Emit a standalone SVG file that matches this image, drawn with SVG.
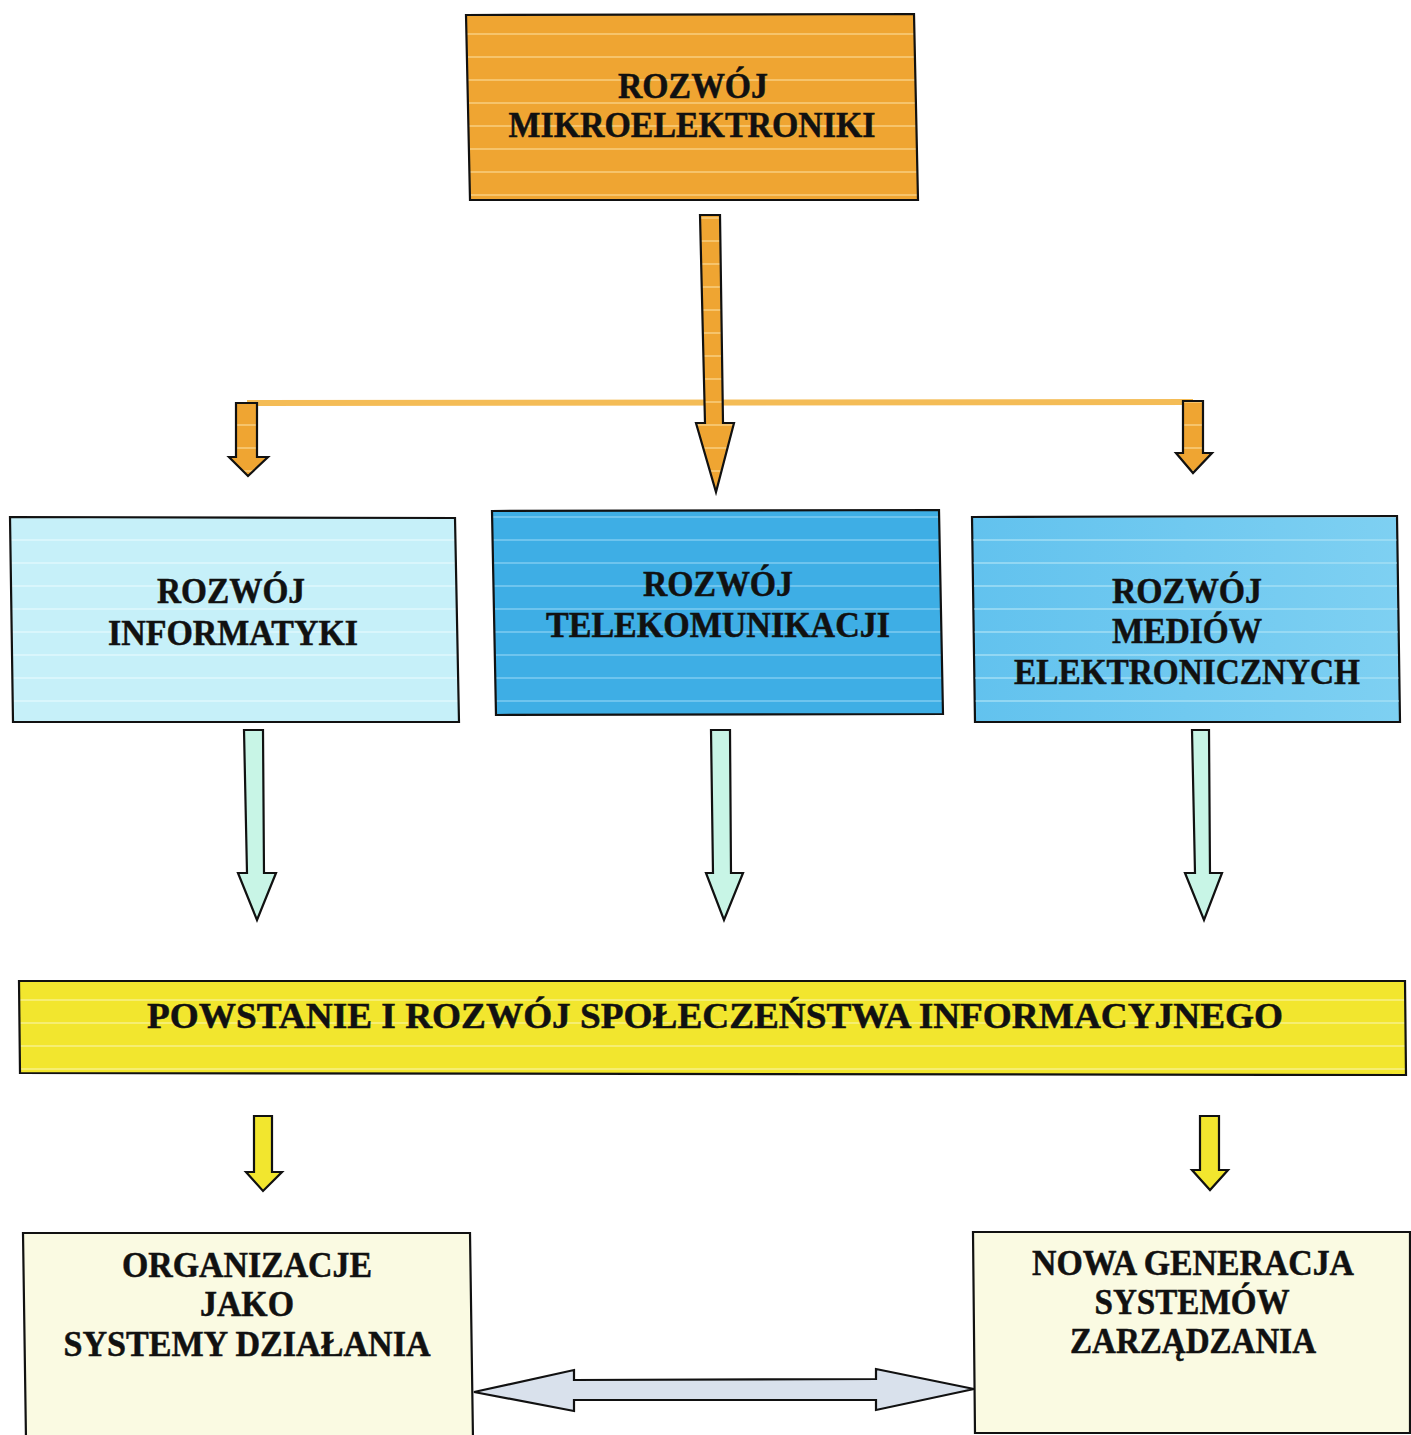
<svg xmlns="http://www.w3.org/2000/svg" width="1411" height="1435" viewBox="0 0 1411 1435">
  <defs>
    <!-- striped fills: base colour with thin lighter bands -->
    <pattern id="stripeOrange" patternUnits="userSpaceOnUse" width="40" height="23">
      <rect width="40" height="23" fill="#EFA532"/>
      <rect y="10" width="40" height="2" fill="#F6C46C"/>
    </pattern>
    <pattern id="stripeLight" patternUnits="userSpaceOnUse" width="40" height="23">
      <rect width="40" height="23" fill="#C6F0F9"/>
      <rect y="10" width="40" height="2" fill="#D9F6FC"/>
    </pattern>
    <pattern id="stripeMid" patternUnits="userSpaceOnUse" width="40" height="23">
      <rect width="40" height="23" fill="#3EAEE5"/>
      <rect y="10" width="40" height="2" fill="#6EC4EE"/>
    </pattern>
    <linearGradient id="gradMedia" x1="0" y1="0" x2="1" y2="0">
      <stop offset="0" stop-color="#62C2EE"/>
      <stop offset="1" stop-color="#7ED0F2"/>
    </linearGradient>
    <pattern id="stripeMedia" patternUnits="userSpaceOnUse" width="40" height="23">
      <rect y="10" width="40" height="2" fill="#A6E0F6" opacity="0.7"/>
    </pattern>
    <pattern id="stripeYellow" patternUnits="userSpaceOnUse" width="40" height="23">
      <rect width="40" height="23" fill="#F2E62E"/>
      <rect y="10" width="40" height="2" fill="#F6EE72"/>
    </pattern>
    <style>
      .box { stroke: #111; stroke-width: 2.2; stroke-linejoin: miter; }
      .lbl { font-family: "Liberation Serif", "Times New Roman", serif; font-weight: bold; font-size: 35px; fill: #111; stroke: #111; stroke-width: 0.5; text-anchor: middle; }
      .arr { stroke: #111; stroke-width: 2.2; stroke-linejoin: miter; }
      .orange { fill: url(#stripeOrange); }
      .mint { fill: #C8F5E6; }
      .yel { fill: #F2E62E; }
      .cream { fill: #FAFAE2; }
    </style>
  </defs>

  <rect width="1411" height="1435" fill="#FFFFFF"/>

  <!-- connectors -->
  <g id="connectors">
    <!-- distribution bar -->
    <path d="M247 403 L1193 402" stroke="#F4BC56" stroke-width="6" fill="none"/>
    <!-- main downward arrow -->
    <polygon class="arr orange" points="700,215 720,215 723,423 734,423 716,492 696,423 705,423"/>
    <!-- branch arrows -->
    <polygon class="arr orange" points="236,403 257,403 257,457 268,457 248,476 229,457 236,457"/>
    <polygon class="arr orange" points="1183,401 1203,401 1203,453 1212,453 1193,473 1176,453 1183,453"/>
    <!-- arrows into the society bar -->
    <polygon class="arr mint" points="244,730 263,730 264,873 276,873 257,920 238,873 247,873"/>
    <polygon class="arr mint" points="711,730 730,730 731,873 743,873 724,920 706,873 713,873"/>
    <polygon class="arr mint" points="1192,730 1209,730 1210,873 1222,873 1204,920 1185,873 1195,873"/>
    <!-- arrows to the bottom blocks -->
    <polygon class="arr yel" points="254,1116 272,1116 272,1172 282,1172 263,1191 246,1172 254,1172"/>
    <polygon class="arr yel" points="1200,1116 1219,1116 1219,1170 1228,1170 1210,1190 1192,1170 1200,1170"/>
    <!-- two-way link between bottom blocks -->
    <polygon class="arr" fill="#D9E1EC" points="474,1392 574,1370 574,1380 876,1379 876,1369 974,1389 876,1410 876,1400 574,1400 574,1411"/>
  </g>

  <g id="node-mikroelektronika">
    <polygon class="box orange" points="466,15 914,14 918,200 470,200"/>
    <text class="lbl" x="693" y="98" textLength="150" lengthAdjust="spacingAndGlyphs">ROZWÓJ</text>
    <text class="lbl" x="692" y="137" textLength="367" lengthAdjust="spacingAndGlyphs">MIKROELEKTRONIKI</text>
  </g>

  <g id="node-informatyka">
    <polygon class="box" fill="url(#stripeLight)" points="10,517 455,518 459,722 13,722"/>
    <text class="lbl" x="231" y="603" textLength="148" lengthAdjust="spacingAndGlyphs">ROZWÓJ</text>
    <text class="lbl" x="233" y="645" textLength="250" lengthAdjust="spacingAndGlyphs">INFORMATYKI</text>
  </g>

  <g id="node-telekomunikacja">
    <polygon class="box" fill="url(#stripeMid)" points="492,511 939,510 943,714 496,715"/>
    <text class="lbl" x="718" y="596" textLength="150" lengthAdjust="spacingAndGlyphs">ROZWÓJ</text>
    <text class="lbl" x="718" y="637" textLength="344" lengthAdjust="spacingAndGlyphs">TELEKOMUNIKACJI</text>
  </g>

  <g id="node-media">
    <polygon class="box" fill="url(#gradMedia)" points="972,517 1397,516 1400,722 975,722"/>
    <polygon fill="url(#stripeMedia)" points="973,518 1396,517 1399,721 976,721"/>
    <text class="lbl" x="1187" y="603" textLength="150" lengthAdjust="spacingAndGlyphs">ROZWÓJ</text>
    <text class="lbl" x="1187" y="643" textLength="150" lengthAdjust="spacingAndGlyphs">MEDIÓW</text>
    <text class="lbl" x="1187" y="684" textLength="346" lengthAdjust="spacingAndGlyphs">ELEKTRONICZNYCH</text>
  </g>

  <g id="node-spoleczenstwo">
    <polygon class="box" fill="url(#stripeYellow)" points="19,981 1405,981 1406,1075 20,1073"/>
    <text class="lbl" x="715" y="1028" textLength="1136" lengthAdjust="spacingAndGlyphs">POWSTANIE I ROZWÓJ SPOŁECZEŃSTWA INFORMACYJNEGO</text>
  </g>

  <g id="node-organizacje">
    <polygon class="box cream" points="23,1233 470,1233 473,1440 26,1440"/>
    <text class="lbl" x="247" y="1277" textLength="250" lengthAdjust="spacingAndGlyphs">ORGANIZACJE</text>
    <text class="lbl" x="247" y="1316" textLength="94" lengthAdjust="spacingAndGlyphs">JAKO</text>
    <text class="lbl" x="247" y="1356" textLength="367" lengthAdjust="spacingAndGlyphs">SYSTEMY DZIAŁANIA</text>
  </g>

  <g id="node-systemy">
    <polygon class="box cream" points="973,1232 1410,1232 1410,1433 975,1433"/>
    <text class="lbl" x="1193" y="1275" textLength="322" lengthAdjust="spacingAndGlyphs">NOWA GENERACJA</text>
    <text class="lbl" x="1192" y="1314" textLength="195" lengthAdjust="spacingAndGlyphs">SYSTEMÓW</text>
    <text class="lbl" x="1193" y="1353" textLength="246" lengthAdjust="spacingAndGlyphs">ZARZĄDZANIA</text>
  </g>
</svg>
